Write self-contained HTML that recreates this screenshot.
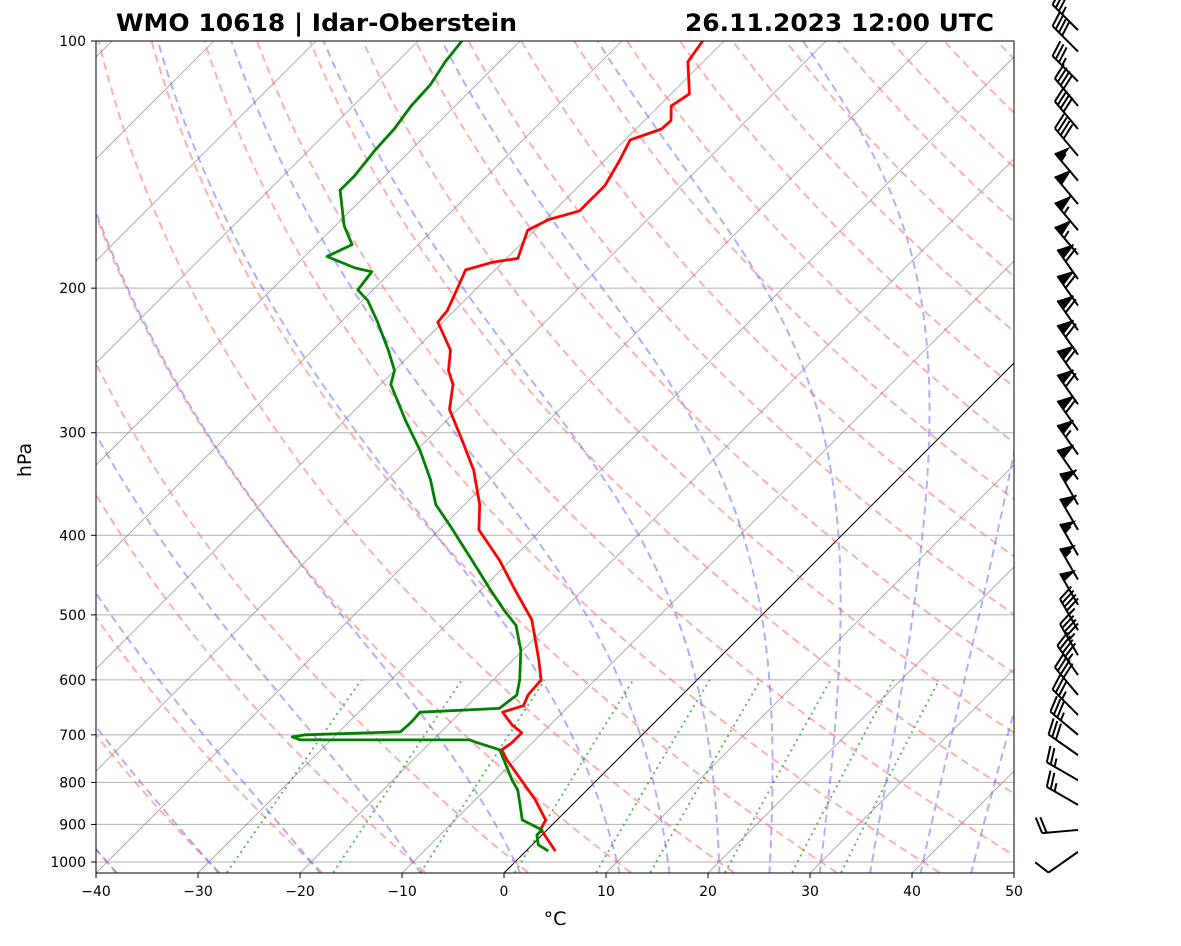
<!DOCTYPE html>
<html><head><meta charset="utf-8"><style>
body{margin:0;background:#fff;font-family:"Liberation Sans","DejaVu Sans",sans-serif}
svg text{font-family:"DejaVu Sans","Liberation Sans",sans-serif}
</style></head><body>
<svg id="chart" width="1181" height="941" viewBox="0 0 1181 941" xmlns="http://www.w3.org/2000/svg">
<defs><clipPath id="clip"><rect x="96" y="41" width="918" height="832"/></clipPath></defs>
<rect width="1181" height="941" fill="#fff"/>
<text x="116" y="31" font-size="24" font-weight="bold" textLength="401" lengthAdjust="spacingAndGlyphs">WMO 10618 | Idar-Oberstein</text>
<text x="685" y="31" font-size="24" font-weight="bold" textLength="309" lengthAdjust="spacingAndGlyphs">26.11.2023 12:00 UTC</text>
<g id="bg" clip-path="url(#clip)"></g>
<g id="prof" clip-path="url(#clip)"></g>
<rect x="96" y="41" width="918" height="832" fill="none" stroke="#000" stroke-width="1"/>
<g id="axes"></g>
<g id="barbs"></g>
<text x="555" y="925" font-size="19" text-anchor="middle">°C</text>
<text x="31" y="460" font-size="19" text-anchor="middle" transform="rotate(-90 31 460)">hPa</text>
</svg>
<script>
const tempP=[970,912,889,840,795,751,730,716,696,681,657,645,626,600,567,507,466,429,394,367,333,306,281,262,252,238,220,213,201,190,186,184,170,165,161,150,140,132,128,125,120,116,106,100];
const tempT=[2.9,-0.7,-1.1,-4.1,-7.4,-10.8,-12.3,-12.0,-12.0,-13.7,-15.9,-14.5,-15.1,-15.3,-17.5,-22.1,-26.7,-31.1,-36.1,-38.5,-42.5,-46.6,-50.8,-52.9,-54.7,-56.5,-60.5,-60.7,-61.8,-62.9,-61.0,-58.9,-60.7,-59.7,-57.5,-57.5,-58.5,-59.5,-57.5,-57.4,-58.8,-58.2,-61.5,-62.1];
const dewP=[970,953,927,914,889,852,817,795,751,730,714,710,710,704,700,694,681,671,657,650,626,600,552,515,494,466,429,389,367,342,315,290,262,252,238,220,207,201,191,189,183,177,168,152,146,136,128,120,113,106,100];
const dewT=[2.2,0.6,-0.5,-0.5,-3.4,-5.1,-6.8,-8.3,-11.1,-12.5,-15.7,-16.4,-33.0,-34.1,-33.0,-24.0,-23.9,-23.9,-24.0,-16.6,-16.2,-17.4,-20.2,-23.1,-25.7,-29.1,-33.8,-39.4,-42.8,-45.8,-49.7,-54.0,-59.0,-60.0,-62.6,-66.4,-69.5,-71.5,-71.9,-73.9,-77.8,-76.5,-79.1,-83.0,-83.0,-83.5,-83.7,-84.3,-84.5,-85.3,-85.7];
const windP=[972,914,852,795,741,700,662,626,592,560,522,486,453,423,394,367,342,319,298,277,259,241,225,210,195,182,170,158,148,138,128,120,112,103,97];
const windDir=[235,265,300,300,305,310,315,320,325,330,330,330,330,330,330,330,325,325,325,325,325,325,325,325,325,320,320,320,320,320,320,320,315,315,315];
const windSpd=[10,20,25,25,30,35,35,40,45,45,45,50,55,55,60,60,60,65,70,70,70,70,70,70,70,65,65,60,55,40,40,40,35,40,35];
const xTicks=[-40,-30,-20,-10,0,10,20,30,40,50];
const yTicks=[100,200,300,400,500,600,700,800,900,1000];

const NS="http://www.w3.org/2000/svg";
const X0=504,SC=10.2,YB=873;
function yP(p){return 862+821*Math.log10(p/1000);}
function xT(T,p){return X0+SC*T+(YB-yP(p));}
function mk(tag,attrs,parent){const e=document.createElementNS(NS,tag);for(const k in attrs)e.setAttribute(k,attrs[k]);parent.appendChild(e);return e;}
function poly(pts,attrs,parent){return mk('polyline',Object.assign({points:pts.map(a=>a[0].toFixed(1)+','+a[1].toFixed(1)).join(' '),fill:'none'},attrs),parent);}
const bg=document.getElementById('bg'),prof=document.getElementById('prof'),axes=document.getElementById('axes'),barbs=document.getElementById('barbs');
const pres=[];for(let p=1030;p>=99;p-=5)pres.push(p);
yTicks.forEach(p=>{const l=mk('line',{x1:96,x2:1014,y1:yP(p),y2:yP(p),stroke:'#b0b0b0','stroke-width':1},bg);

});
for(let T=-130;T<=50;T+=10){const l=mk('line',{x1:xT(T,1030),y1:yP(1030),x2:xT(T,100),y2:yP(100),stroke:T===0?'#000':'#888','stroke-width':T===0?1:0.8,'stroke-opacity':T===0?1:0.8},bg);

}
for(let t=-50;t<=200;t+=10){const th=t+273.15;const pts=pres.map(p=>[xT(th*Math.pow(p/1000,0.2857)-273.15,p),yP(p)]);
const l=poly(pts,{stroke:'#ff6060','stroke-opacity':0.5,'stroke-width':2,'stroke-dasharray':'8,5'},bg);

}
function es(Tc){return 6.112*Math.exp(17.67*Tc/(Tc+243.5));}
function dTdp(T,p){const Tc=T-273.15,e=es(Tc),rs=0.622*e/(p-e);return (287.04*T+2.501e6*rs)/(p*(1005.7+2.501e6*2.501e6*rs*0.622/(287.04*T*T)));}
const mt=[-50,-40,-30,-20,-10,0,10,15,20,25,30,35,40,45];
mt.forEach(t=>{let T=t+273.15;const up=[];let Tu=T;for(let q=1000;q>=100;q-=5){up.push([xT(Tu-273.15,q),yP(q)]);const k1=dTdp(Tu,q),k2=dTdp(Tu-2.5*k1,q-2.5);Tu-=5*k2;}
let Td=T;const dn=[];for(let q=1000;q<=1035;q+=5){dn.unshift([xT(Td-273.15,q),yP(q)]);Td+=5*dTdp(Td,q);}
const l=poly(dn.concat(up),{stroke:'#6060ff','stroke-opacity':0.5,'stroke-width':2,'stroke-dasharray':'8,5'},bg);

});
[0.0004,0.001,0.002,0.004,0.007,0.01,0.016,0.024,0.032].forEach(w=>{const pts=[];for(let p=1030;p>=600;p-=10){const e=w*p/(0.622+w),L=Math.log(e/6.112);pts.push([xT(243.5*L/(17.67-L),p),yP(p)]);}
const l=poly(pts,{stroke:'#2ca02c','stroke-opacity':0.75,'stroke-width':2,'stroke-dasharray':'2,4'},bg);

});
const tl=poly(tempP.map((p,i)=>[xT(tempT[i],p),yP(p)]),{stroke:'#ff0000','stroke-width':2.8,'stroke-linejoin':'round'},prof);


const dl=poly(dewP.map((p,i)=>[xT(dewT[i],p),yP(p)]),{stroke:'#008000','stroke-width':2.8,'stroke-linejoin':'round'},prof);


xTicks.forEach(T=>{const x=X0+SC*T;mk('line',{x1:x,x2:x,y1:873,y2:878,stroke:'#000'},axes);
const t=mk('text',{x:x,y:896,'font-size':14,'text-anchor':'middle'},axes);t.textContent=(T<0?'\u2212'+(-T):T);

});
yTicks.forEach(p=>{const y=yP(p);mk('line',{x1:91,x2:96,y1:y,y2:y,stroke:'#000'},axes);
const t=mk('text',{x:86,y:y+5,'font-size':14,'text-anchor':'end'},axes);t.textContent=p;

});
windP.forEach((p,i)=>{const bx=1078,by=yP(p),d=windDir[i]*Math.PI/180;const ux=Math.sin(d),uy=-Math.cos(d);const fx=-uy,fy=ux;
const g=mk('g',{},barbs);


const Ls=36;const tx=bx+ux*Ls,ty=by+uy*Ls;mk('line',{x1:bx,y1:by,x2:tx,y2:ty,stroke:'#000','stroke-width':2},g);
let s=Math.round(windSpd[i]/5)*5,pos=0;const bl=16,back=5;
while(s>=50){const ax=tx-ux*pos,ay=ty-uy*pos,cx=tx-ux*(pos+9),cy=ty-uy*(pos+9);
mk('polygon',{points:`${ax},${ay} ${ax+fx*bl-ux*back},${ay+fy*bl-uy*back} ${cx},${cy}`,fill:'#000'},g);pos+=10;s-=50;}
while(s>=10){const ax=tx-ux*pos,ay=ty-uy*pos;mk('line',{x1:ax,y1:ay,x2:ax+fx*bl+ux*back,y2:ay+fy*bl+uy*back,stroke:'#000','stroke-width':2},g);pos+=4.5;s-=10;}
if(s>=5){if(pos===0)pos=4.5;const ax=tx-ux*pos,ay=ty-uy*pos;mk('line',{x1:ax,y1:ay,x2:ax+fx*bl/2+ux*back/2,y2:ay+fy*bl/2+uy*back/2,stroke:'#000','stroke-width':2},g);}
});
</script>
</body></html>
